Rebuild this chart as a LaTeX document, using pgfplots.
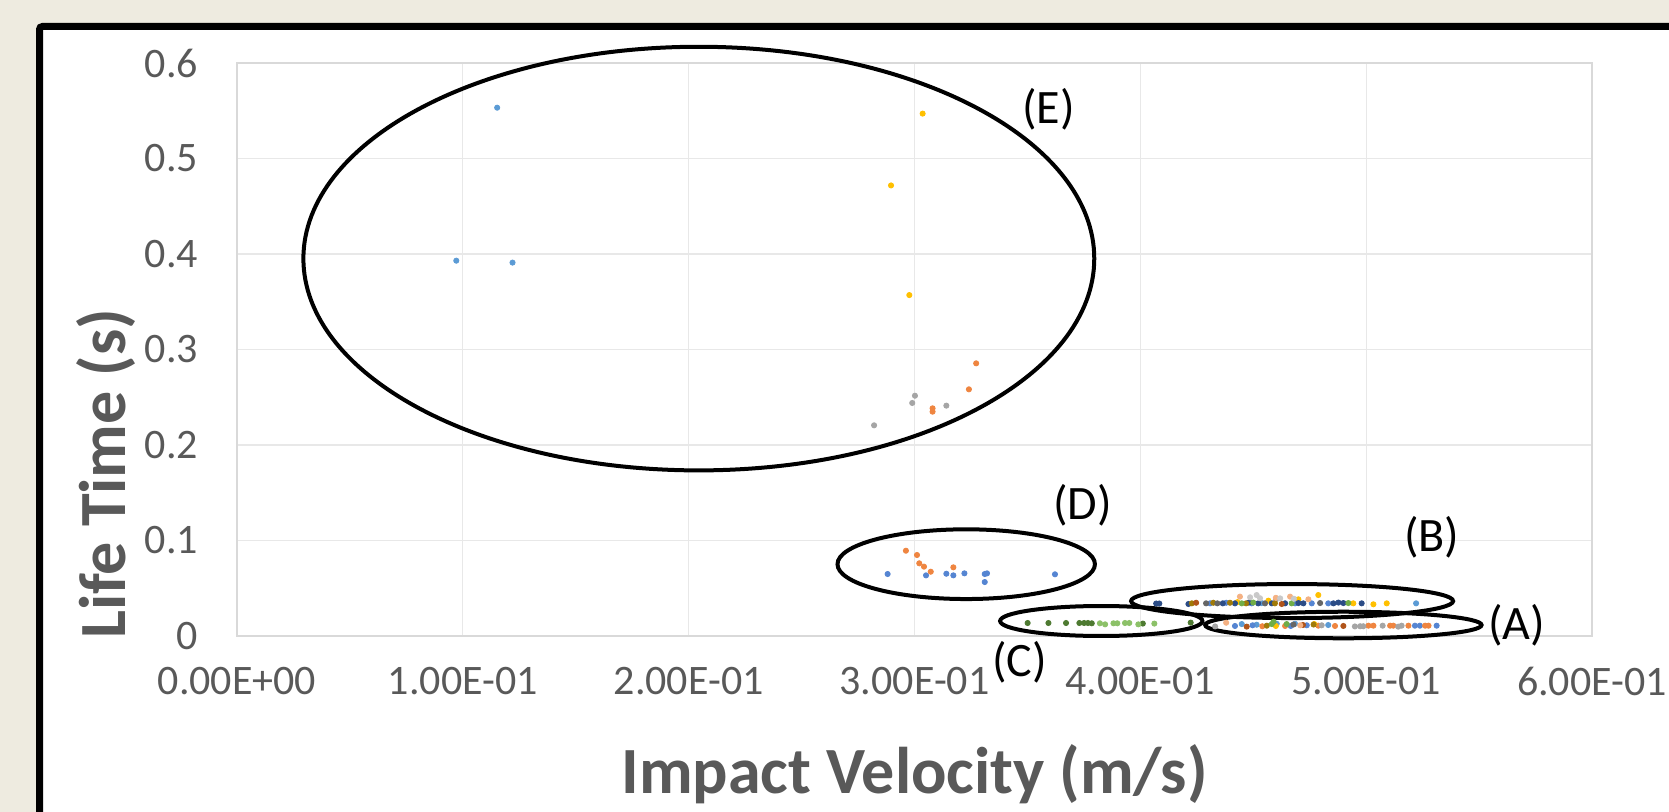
\documentclass[border=0pt]{standalone}
\usepackage{fontspec}
\setmainfont{Carlito}
\usepackage{pgfplots}
\pgfplotsset{compat=1.18}

\definecolor{bg}{HTML}{EEEBE0}
\definecolor{txtgray}{HTML}{595959}
\definecolor{gridgray}{HTML}{E8E8E8}
\definecolor{axgray}{HTML}{D9D9D9}
\definecolor{cLtBlue}{HTML}{5B9BD5}
\definecolor{cBlue}{HTML}{5585D2}
\definecolor{cDkBlue}{HTML}{2B4C86}
\definecolor{cOrange}{HTML}{EF8540}
\definecolor{cLtOrange}{HTML}{F4B183}
\definecolor{cDkOrange}{HTML}{B0541A}
\definecolor{cGray}{HTML}{A5A5A5}
\definecolor{cLtGray}{HTML}{C9C9C9}
\definecolor{cDkGray}{HTML}{666666}
\definecolor{cYellow}{HTML}{FFC000}
\definecolor{cOlive}{HTML}{A07A08}
\definecolor{cGreen}{HTML}{70AD47}
\definecolor{cLtGreen}{HTML}{8CC168}
\definecolor{cDkGreen}{HTML}{4E7A31}

\begin{document}
\begin{tikzpicture}
\path[use as bounding box, fill=bg] (0,0) rectangle (834.5pt,406pt);
\fill[white] (19.75pt,0) rectangle (834.5pt,392.75pt);
\draw[line width=3.5pt, rounded corners=1.5pt] (19.75pt,-4pt) -- (19.75pt,392.75pt) -- (840pt,392.75pt);

\begin{axis}[
    at={(118.5pt,88pt)}, anchor=south west,
    scale only axis,
    width=677.5pt, height=286.5pt,
    xmin=0, xmax=0.6, ymin=0, ymax=0.6,
    xtick={0,0.1,0.2,0.3,0.4,0.5,0.6},
    xticklabels={0.00E+00,1.00E-01,2.00E-01,3.00E-01,4.00E-01,5.00E-01,6.00E-01},
    ytick={0,0.1,0.2,0.3,0.4,0.5,0.6},
    yticklabels={0,0.1,0.2,0.3,0.4,0.5,0.6},
    major tick length=0pt,
    grid=major,
    grid style={gridgray, line width=0.6pt},
    axis line style={axgray, line width=0.8pt},
    tick label style={font=\fontsize{21}{25}\selectfont, text=txtgray},
    xticklabel style={yshift=-12pt},
    yticklabel style={xshift=-16pt},
    xlabel={Impact Velocity (m/s)},
    ylabel={Life Time (s)},
    label style={font=\bfseries\fontsize{33}{40}\selectfont, text=txtgray},
    xlabel style={at={(axis description cs:0.5,-0.242)}, anchor=center},
    ylabel style={at={(axis description cs:-0.0967,0.283)}, anchor=center, rotate=0},
    clip=false,
    every axis plot/.append style={only marks, mark=*, mark size=1.3pt},
]
% light blue
\addplot[cLtBlue, mark options={draw=cLtBlue, fill=cLtBlue}] coordinates {
(0.1152,0.5532) (0.0971,0.393) (0.1220,0.391)
(0.4537,0.0345) (0.5221,0.0342)
(0.4449,0.0125) (0.4515,0.0118) (0.4685,0.0128) (0.4604,0.0128) (0.4832,0.0115)
};
% blue
\addplot[cBlue, mark options={draw=cBlue, fill=cBlue}] coordinates {
(0.2881,0.0649) (0.3051,0.0635) (0.3141,0.0652) (0.3172,0.0635) (0.3221,0.0656)
(0.3311,0.0649) (0.3321,0.0656) (0.3311,0.0565) (0.3622,0.0646)
(0.4419,0.0105) (0.4497,0.0112) (0.4666,0.0105) (0.4737,0.0112) (0.5216,0.0108)
(0.5238,0.0108) (0.5312,0.0108)
(0.4309,0.0342) (0.4380,0.0348) (0.4493,0.0342) (0.4685,0.0342) (0.4759,0.0342) (0.4832,0.0342)
};
% orange
\addplot[cOrange, mark options={draw=cOrange, fill=cOrange}] coordinates {
(0.3273,0.2855) (0.3241,0.2583) (0.3080,0.2384) (0.3080,0.2349)
(0.2962,0.0893) (0.3011,0.0848) (0.3021,0.0761) (0.3042,0.0726) (0.3072,0.0673) (0.3172,0.0719)
(0.4641,0.0105) (0.4788,0.0108) (0.4862,0.0105) (0.5010,0.0108) (0.5032,0.0108) (0.5106,0.0108)
(0.5120,0.0108) (0.5187,0.0108) (0.5261,0.0108) (0.5276,0.0108) (0.4540,0.0102)
};
% gray
\addplot[cGray, mark options={draw=cGray, fill=cGray}] coordinates {
(0.3002,0.2516) (0.2990,0.2440) (0.3141,0.2412) (0.2821,0.2206)
(0.4331,0.0100) (0.4803,0.0112) (0.4973,0.0102) (0.4987,0.0102) (0.5073,0.0108)
(0.5142,0.0098) (0.5157,0.0108) (0.4950,0.0100)
(0.4600,0.0380)
};
% yellow
\addplot[cYellow, mark options={draw=cYellow, fill=cYellow}] coordinates {
(0.3036,0.547) (0.2896,0.4718) (0.2977,0.357)
(0.4567,0.037) (0.4700,0.0384) (0.4788,0.0429) (0.4943,0.0342) (0.5032,0.0332)
(0.5091,0.0342) (0.4430,0.0355)
(0.4600,0.0105) (0.4770,0.0125)
};
% dark blue
\addplot[cDkBlue, mark options={draw=cDkBlue, fill=cDkBlue}] coordinates {
(0.4070,0.0340) (0.4084,0.0340) (0.4213,0.0335) (0.4365,0.0342) (0.4419,0.0342)
(0.4522,0.0342) (0.4582,0.0342) (0.4641,0.0342) (0.4722,0.0342) (0.4855,0.0342)
(0.4877,0.0350) (0.4899,0.0345) (0.4980,0.0342) (0.4480,0.0350) (0.4700,0.0345)
};
% olive
\addplot[cOlive, mark options={draw=cOlive, fill=cOlive}] coordinates {
(0.4228,0.0342) (0.4323,0.0348) (0.4397,0.0348) (0.4468,0.0342) (0.4596,0.0342)
(0.4560,0.0108) (0.4767,0.0120)
};
% dark gray
\addplot[cDkGray, mark options={draw=cDkGray, fill=cDkGray}] coordinates {
(0.4291,0.0342) (0.4341,0.0342) (0.4552,0.0342) (0.4796,0.0345)
(0.4678,0.0120)
};
% dark orange
\addplot[cDkOrange, mark options={draw=cDkOrange, fill=cDkOrange}] coordinates {
(0.4247,0.0348) (0.4626,0.0335)
(0.4471,0.0098) (0.4899,0.0105) (0.4720,0.0115)
};
% green
\addplot[cGreen, mark options={draw=cGreen, fill=cGreen}] coordinates {
(0.4449,0.0342) (0.4670,0.0342) (0.4921,0.0345) (0.4500,0.0350)
(0.4582,0.0125) (0.4648,0.0125) (0.4590,0.0150)
};
% light orange
\addplot[cLtOrange, mark options={draw=cLtOrange, fill=cLtOrange}] coordinates {
(0.4441,0.0412) (0.4663,0.0412) (0.4744,0.0384) (0.4600,0.0400)
(0.4380,0.0139) (0.4708,0.0112)
};
% light gray
\addplot[cLtGray, mark options={draw=cLtGray, fill=cLtGray}] coordinates {
(0.4486,0.0405) (0.4515,0.0429) (0.4619,0.0394) (0.4530,0.0395) (0.4680,0.0390)
};
% dark green
\addplot[cDkGreen, mark options={draw=cDkGreen, fill=cDkGreen}] coordinates {
(0.3501,0.0136) (0.3593,0.0136) (0.3671,0.0136) (0.3730,0.0136) (0.3751,0.0136)
(0.3768,0.0136) (0.3785,0.0133) (0.4011,0.0130) (0.4223,0.0140)
};
% light green
\addplot[cLtGreen, mark options={draw=cLtGreen, fill=cLtGreen}] coordinates {
(0.3821,0.0133) (0.3844,0.0122) (0.3881,0.0133) (0.3898,0.0133) (0.3932,0.0136)
(0.3951,0.0136) (0.3991,0.0122) (0.4062,0.0130)
};

% cluster outlines
\draw[black, line width=2pt] (axis cs:0.2045,0.3952) ellipse [x radius=0.1751, y radius=0.2218];
\draw[black, line width=2pt] (axis cs:0.3229,0.0752) ellipse [x radius=0.0570, y radius=0.0365];
\draw[black, line width=2pt] (axis cs:0.3827,0.0157) ellipse [x radius=0.0448, y radius=0.0157];
\draw[black, line width=2pt] (axis cs:0.4672,0.0366) ellipse [x radius=0.0713, y radius=0.0178];
\draw[black, line width=2pt] (axis cs:0.4899,0.0115) ellipse [x radius=0.0612, y radius=0.0139];

\begin{scope}[every node/.style={font=\fontsize{24}{28}\selectfont, text=black}]
\node at (axis cs:0.3593,0.5512) {(E)};
\node at (axis cs:0.3744,0.1365) {(D)};
\node at (axis cs:0.5290,0.1031) {(B)};
\node at (axis cs:0.5667,0.0117) {(A)};
\node at (axis cs:0.3466,-0.0272) {(C)};
\end{scope}
\end{axis}
\end{tikzpicture}
\end{document}
